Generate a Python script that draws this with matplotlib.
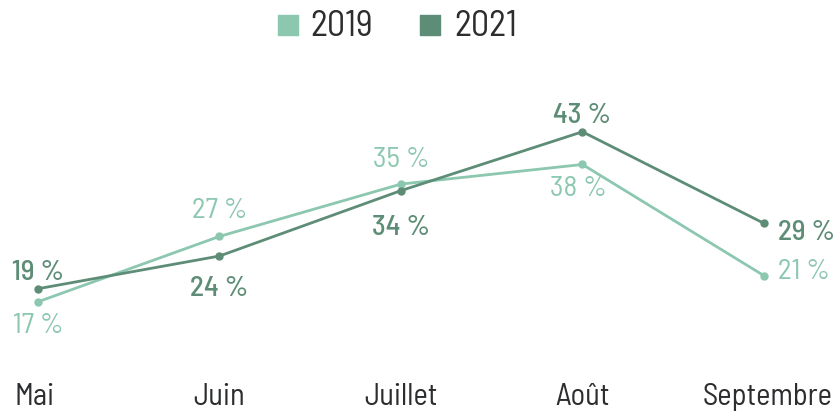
import matplotlib
matplotlib.use("Agg")
import matplotlib.pyplot as plt
from matplotlib import font_manager

months = ["Mai", "Juin", "Juillet", "Août", "Septembre"]
v2019 = [17, 27, 35, 38, 21]
v2021 = [19, 24, 34, 43, 29]
series = ["2019", "2021"]

c2019 = "#8cc7b0"
c2021 = "#5e8d77"
dark = "#2b2d2f"

names = {f.name for f in font_manager.fontManager.ttflist}
fam = "DejaVu Sans"
for cand in ["Bahnschrift", "D-DIN", "Barlow Semi Condensed", "Barlow Condensed"]:
    if cand in names:
        fam = cand
        break
plt.rcParams["font.family"] = [fam, "DejaVu Sans"]

fig = plt.figure(figsize=(8.34, 4.14), dpi=100)
ax = fig.add_axes([0, 0, 1, 1])
ax.set_xlim(-0.209, 4.386)
ax.set_ylim(0, 63.3)
ax.axis("off")

x = range(len(months))
ax.plot(x, v2019, color=c2019, lw=2, marker="o", ms=5, zorder=3)
ax.plot(x, v2021, color=c2021, lw=2, marker="o", ms=5, zorder=3)

# label placement: (dx in data, dy in points, ha)
pos2019 = [(0, -17, "center"), (0, 19, "center"), (0, 18, "center"), (-0.02, -17, "center"), (0.075, 3, "left")]
pos2021 = [(0, 12, "center"), (0, -23, "center"), (0, -26.5, "center"), (0, 12, "center"), (0.075, -6, "left")]

for i, v in enumerate(v2019):
    dx, dy, ha = pos2019[i]
    ax.annotate(f"{v}\u2009%", (i + dx, v), xytext=(0, dy), textcoords="offset points",
                ha=ha, va="center", fontsize=21, color=c2019)
for i, v in enumerate(v2021):
    dx, dy, ha = pos2021[i]
    ax.annotate(f"{v}\u2009%", (i + dx, v), xytext=(0, dy), textcoords="offset points",
                ha=ha, va="center", fontsize=21, color=c2021, fontweight="medium")

for i, m in enumerate(months):
    ha = "center"
    xx = i
    if i == 0:
        ha, xx = "left", -0.127
    if i == len(months) - 1:
        ha, xx = "right", 4.375
    ax.text(xx, 2.6, m, ha=ha, va="center", fontsize=22, color=dark)

# legend
ax.scatter([1.377], [59.3], marker="s", s=207, color=c2019)
ax.text(1.499, 59.2, series[0], ha="left", va="center", fontsize=26, color=dark)
ax.scatter([2.160], [59.3], marker="s", s=207, color=c2021)
ax.text(2.292, 59.2, series[1], ha="left", va="center", fontsize=26, color=dark)

fig.savefig("out.png", dpi=100)
